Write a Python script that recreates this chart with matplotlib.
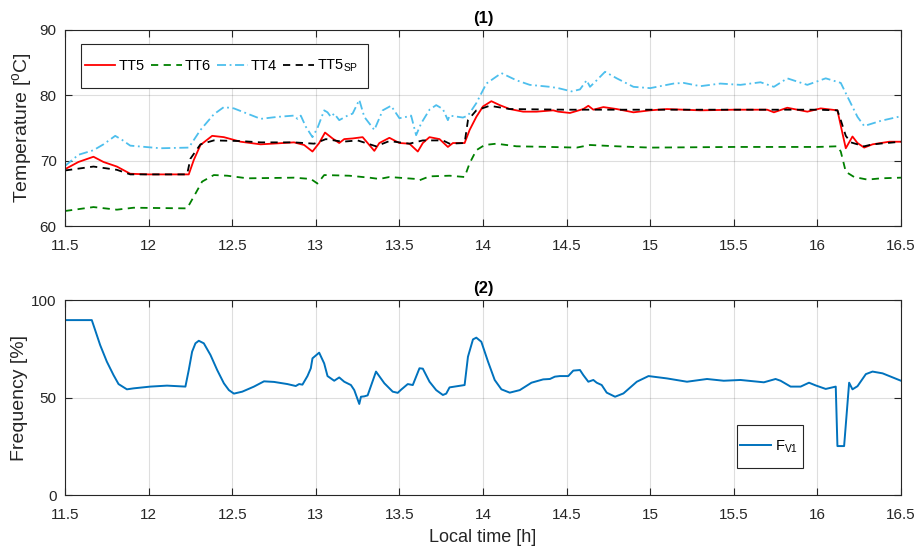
import numpy as np
import matplotlib
matplotlib.use("Agg")
import matplotlib.pyplot as plt
from matplotlib.patches import Rectangle

plt.rcParams['font.family'] = ['Liberation Sans', 'DejaVu Sans']
plt.rcParams['mathtext.fontset'] = 'custom'
plt.rcParams['mathtext.rm'] = 'Liberation Sans'
plt.rcParams['mathtext.it'] = 'Liberation Sans:italic'

# ---- data ----
t5 = [11.50, 11.58, 11.67, 11.73, 11.81, 11.89, 12.00, 12.24, 12.27, 12.31,
      12.38, 12.45, 12.55, 12.67, 12.87, 12.93, 12.98, 13.02, 13.055, 13.10,
      13.14, 13.17, 13.22, 13.28, 13.35, 13.38, 13.44, 13.50, 13.56, 13.61,
      13.64, 13.68, 13.74, 13.79, 13.82, 13.89, 13.92, 13.96, 14.00, 14.05,
      14.10, 14.16, 14.24, 14.32, 14.42, 14.45, 14.52, 14.60, 14.63, 14.66,
      14.72, 14.80, 14.90, 15.00, 15.10, 15.30, 15.50, 15.70, 15.74, 15.82,
      15.94, 16.02, 16.12, 16.15, 16.17, 16.21, 16.24, 16.28, 16.33, 16.43,
      16.50]
tt5 = [68.7, 69.8, 70.6, 69.8, 69.1, 68.0, 67.9, 67.9, 70.1, 72.4,
       73.8, 73.6, 72.9, 72.5, 72.8, 72.4, 71.4, 72.7, 74.3, 73.4,
       72.7, 73.3, 73.4, 73.6, 71.5, 72.7, 73.5, 72.7, 72.6, 71.4,
       72.7, 73.6, 73.3, 72.1, 72.7, 72.7, 74.7, 76.7, 78.3, 79.1,
       78.5, 77.9, 77.5, 77.5, 77.7, 77.5, 77.3, 77.9, 78.4, 77.8,
       78.2, 77.9, 77.4, 77.7, 77.9, 77.7, 77.8, 77.8, 77.4, 78.1,
       77.5, 78.0, 77.7, 74.2, 71.9, 73.7, 72.7, 72.0, 72.5, 72.9,
       72.9]

t6 = [11.50, 11.67, 11.81, 11.91, 12.23, 12.27, 12.32, 12.39, 12.47, 12.59,
      12.87, 12.97, 13.01, 13.05, 13.20, 13.32, 13.38, 13.44, 13.60, 13.62,
      13.68, 13.80, 13.89, 13.92, 13.96, 14.01, 14.08, 14.20, 14.40, 14.56,
      14.64, 14.80, 15.00, 15.50, 16.00, 16.12, 16.14, 16.17, 16.22, 16.30,
      16.38, 16.50]
tt6 = [62.3, 62.9, 62.5, 62.8, 62.7, 64.5, 66.8, 67.8, 67.7, 67.3,
       67.4, 67.2, 66.5, 67.8, 67.7, 67.4, 67.2, 67.5, 67.2, 67.0,
       67.6, 67.7, 67.5, 69.6, 71.6, 72.4, 72.6, 72.2, 72.1, 72.0,
       72.4, 72.2, 72.0, 72.1, 72.1, 72.2, 71.4, 68.3, 67.5, 67.1,
       67.3, 67.4]

t4 = [11.50, 11.58, 11.67, 11.73, 11.80, 11.84, 11.89, 12.07, 12.24, 12.31,
      12.39, 12.45, 12.51, 12.59, 12.67, 12.77, 12.87, 12.89, 12.91, 12.94,
      12.98, 13.01, 13.05, 13.07, 13.09, 13.11, 13.14, 13.19, 13.22, 13.26,
      13.29, 13.35, 13.40, 13.45, 13.50, 13.54, 13.57, 13.60, 13.63, 13.68,
      13.72, 13.76, 13.79, 13.80, 13.88, 13.91, 13.96, 14.02, 14.11, 14.20,
      14.28, 14.40, 14.45, 14.53, 14.58, 14.62, 14.64, 14.68, 14.73, 14.80,
      14.90, 15.00, 15.14, 15.20, 15.30, 15.42, 15.54, 15.66, 15.74, 15.82,
      15.94, 16.05, 16.14, 16.18, 16.24, 16.28, 16.38, 16.50]
tt4 = [69.2, 70.9, 71.6, 72.5, 73.8, 73.2, 72.3, 71.9, 72.0, 74.7,
       77.1, 78.2, 78.0, 77.2, 76.4, 76.7, 76.9, 76.4, 76.9, 75.2,
       73.6, 75.0, 77.7, 77.4, 76.7, 77.2, 76.2, 76.9, 77.2, 79.3,
       76.7, 74.7, 77.7, 78.4, 76.5, 76.7, 76.9, 73.9, 75.7, 77.8,
       78.5, 77.9, 76.2, 76.9, 76.6, 76.9, 78.8, 81.8, 83.4, 82.3,
       81.6, 81.3, 81.1, 80.6, 80.9, 82.3, 81.3, 82.3, 83.6, 82.6,
       81.3, 81.1, 81.8, 81.9, 81.4, 81.8, 81.6, 82.0, 81.3, 82.6,
       81.6, 82.6, 81.9, 79.8, 76.7, 75.3, 76.1, 76.8]

tsp = [11.50, 11.67, 11.81, 11.89, 12.23, 12.25, 12.31, 12.39, 12.55, 12.67,
       12.87, 12.99, 13.06, 13.16, 13.25, 13.36, 13.44, 13.56, 13.64, 13.76,
       13.80, 13.89, 13.91, 13.96, 14.04, 14.16, 14.50, 15.00, 15.50, 16.00,
       16.12, 16.14, 16.17, 16.20, 16.28, 16.33, 16.50]
tt5_sp = [68.5, 69.1, 68.6, 67.9, 67.9, 70.3, 72.5, 73.1, 73.0, 72.8,
          72.8, 72.6, 73.3, 72.9, 73.1, 72.2, 73.0, 72.6, 73.1, 73.1,
          72.6, 72.7, 76.2, 77.7, 78.4, 77.9, 77.8, 77.8, 77.8, 77.8,
          77.7, 76.2, 73.8, 72.8, 72.2, 72.5, 72.9]

tf = [11.50, 11.66, 11.68, 11.71, 11.75, 11.79, 11.82, 11.87, 11.91, 12.01,
      12.11, 12.22, 12.24, 12.26, 12.28, 12.30, 12.33, 12.37, 12.41, 12.45,
      12.48, 12.51, 12.56, 12.63, 12.69, 12.75, 12.83, 12.88, 12.90, 12.92,
      12.95, 12.97, 12.98, 13.02, 13.05, 13.07, 13.11, 13.14, 13.17, 13.21,
      13.23, 13.26, 13.27, 13.29, 13.31, 13.36, 13.41, 13.46, 13.49, 13.51,
      13.55, 13.58, 13.62, 13.64, 13.68, 13.72, 13.76, 13.78, 13.80, 13.89,
      13.91, 13.94, 13.96, 13.99, 14.03, 14.07, 14.11, 14.16, 14.22, 14.29,
      14.36, 14.40, 14.43, 14.46, 14.51, 14.54, 14.58, 14.60, 14.63, 14.66,
      14.68, 14.71, 14.74, 14.79, 14.84, 14.92, 14.99, 15.10, 15.22, 15.34,
      15.44, 15.54, 15.68, 15.75, 15.78, 15.84, 15.90, 15.95, 15.99, 16.05,
      16.11, 16.12, 16.16, 16.19, 16.21, 16.24, 16.29, 16.33, 16.39, 16.50]
fv1 = [89.7, 89.7, 84.6, 76.9, 68.4, 61.5, 56.9, 54.2, 54.7, 55.6,
       56.1, 55.6, 64.1, 73.5, 77.8, 79.1, 77.8, 71.8, 64.1, 57.3,
       53.8, 52.0, 53.0, 55.6, 58.3, 58.0, 56.9, 55.9, 56.9, 56.6,
       61.0, 65.0, 70.1, 73.0, 67.5, 61.0, 58.6, 60.3, 58.1, 56.4,
       53.8, 46.7, 50.4, 50.6, 51.1, 63.3, 57.3, 53.0, 52.4, 54.0,
       56.9, 56.4, 65.0, 64.8, 58.1, 53.8, 51.3, 52.0, 55.2, 56.4,
       70.9, 79.8, 80.7, 78.6, 68.4, 59.0, 54.2, 52.5, 53.8, 57.6,
       59.3, 59.5, 60.7, 61.0, 61.0, 63.8, 64.1, 61.5, 58.1, 59.0,
       57.6, 56.4, 52.5, 50.4, 52.1, 58.1, 61.0, 59.8, 58.1, 59.5,
       58.6, 59.0, 57.8, 59.5, 58.6, 55.6, 55.6, 57.6, 56.2, 54.4,
       55.6, 25.1, 25.1, 57.6, 54.2, 55.8, 62.0, 63.3, 62.4, 58.6]

xticks = [11.5, 12, 12.5, 13, 13.5, 14, 14.5, 15, 15.5, 16, 16.5]
xticklabels = ['11.5', '12', '12.5', '13', '13.5', '14', '14.5', '15', '15.5', '16', '16.5']

# ---- style ----
axc = (0.15, 0.15, 0.15)


def matlab_axes(ax):
    for s in ax.spines.values():
        s.set_color(axc)
        s.set_linewidth(0.8)
    ax.tick_params(direction='in', top=True, right=True, colors=axc,
                   labelcolor=axc, labelsize=11, length=5, width=0.8)
    ax.tick_params(axis='x', pad=9)
    ax.tick_params(axis='y', pad=6)
    ax.grid(True, color=(0.15, 0.15, 0.15), alpha=0.15, linewidth=0.8)
    ax.set_axisbelow(True)
    ax.set_xlim(11.5, 16.5)
    ax.set_xticks(xticks)
    ax.set_xticklabels(xticklabels)


def legend_box(ax, x0, y0, w, h):
    # MATLAB style legend frame (tighter sides, taller than matplotlib's)
    ax.add_patch(Rectangle((x0, y0), w, h, transform=ax.transAxes,
                           facecolor='white', edgecolor=axc, lw=0.8, zorder=4))


fig = plt.figure(figsize=(9.2, 5.51), dpi=100)
ax1 = fig.add_axes([0.0707, 0.5898, 0.9086, 0.3558])
ax2 = fig.add_axes([0.0707, 0.1016, 0.9086, 0.3539])

ax1.plot(t5, tt5, color='#ff0000', lw=1.3, label='TT5')
ax1.plot(t6, tt6, color=(0, 0.5, 0), lw=1.3, ls=(0, (4, 3)), label='TT6')
ax1.plot(t4, tt4, color=(0.3, 0.75, 0.93), lw=1.3, ls=(0, (5, 2, 1, 2)), label='TT4')
ax1.plot(tsp, tt5_sp, color='k', lw=1.3, ls=(0, (4, 3)), label=r'TT5$_\mathrm{SP}$')
matlab_axes(ax1)
ax1.set_ylim(60, 90)
ax1.set_yticks([60, 70, 80, 90])
ax1.set_ylabel(r'Temperature [$^\mathrm{o}$C]', fontsize=14, color=axc)
ax1.yaxis.set_label_coords(-0.037, 0.5)
ax1.set_title('(1)', fontsize=12, fontweight='bold', color='k', pad=5)
legend_box(ax1, 0.0191, 0.7041, 0.3433, 0.2245)
leg1 = ax1.legend(loc='center left', bbox_to_anchor=(0.0235, 0.8163), ncol=4,
                  fontsize=10.5, frameon=False, handlelength=2.1,
                  handletextpad=0.2, columnspacing=0.45,
                  borderpad=0, borderaxespad=0)
leg1.set_zorder(5)

ax2.plot(tf, fv1, color=(0, 0.447, 0.741), lw=1.4, label=r'F$_\mathrm{V1}$')
matlab_axes(ax2)
ax2.set_ylim(0, 100)
ax2.set_yticks([0, 50, 100])
ax2.set_ylabel('Frequency [%]', fontsize=14, color=axc)
ax2.yaxis.set_label_coords(-0.044, 0.5)
ax2.set_xlabel('Local time [h]', fontsize=13, color=axc)
ax2.xaxis.set_label_coords(0.5, -0.172)
ax2.set_title('(2)', fontsize=12, fontweight='bold', color='k', pad=5)
legend_box(ax2, 0.8038, 0.1385, 0.0789, 0.2205)
leg2 = ax2.legend(loc='center left', bbox_to_anchor=(0.8074, 0.2487),
                  fontsize=10.5, frameon=False, handlelength=2.1,
                  handletextpad=0.3, borderpad=0, borderaxespad=0)
leg2.set_zorder(5)

fig.savefig('out.png', dpi=100)
